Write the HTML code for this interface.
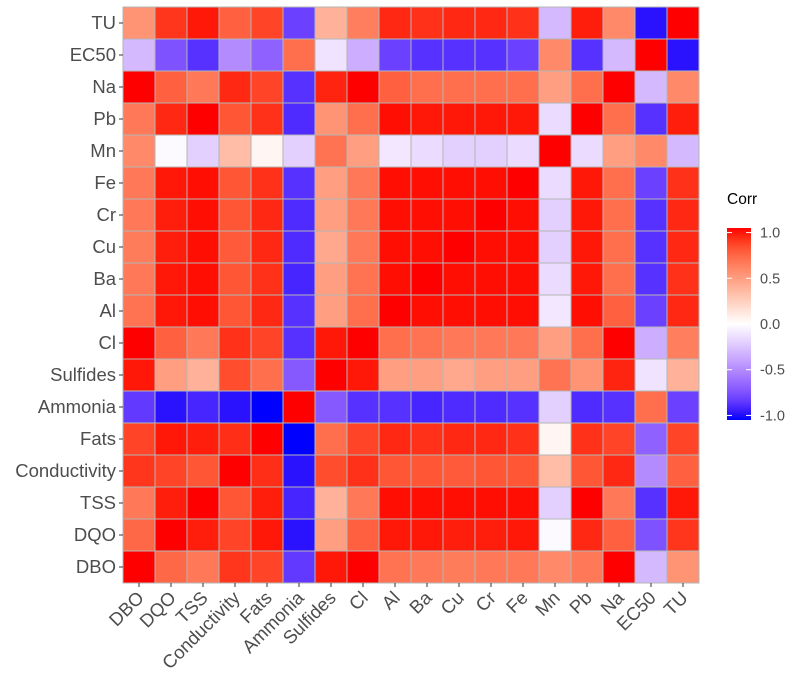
<!DOCTYPE html>
<html><head><meta charset="utf-8">
<style>
body{margin:0;background:#fff;font-family:"Liberation Sans",Arial,sans-serif;}
svg{display:block}
</style></head>
<body>
<svg id="chart" width="800" height="687"></svg>
<script>
const variables = ["DBO","DQO","TSS","Conductivity","Fats","Ammonia","Sulfides","Cl","Al","Ba","Cu","Cr","Fe","Mn","Pb","Na","EC50","TU"];
const corr = [
[1,.75,.68,.92,.88,-.85,.98,1,.7,.68,.66,.68,.68,.6,.68,1,-.3,.55],
[.75,1,.97,.88,.98,-.97,.5,.78,.98,.98,.97,.97,.98,-.02,.95,.78,-.75,.92],
[.68,.97,1,.82,.97,-.92,.4,.68,.99,.99,.99,.99,.99,-.2,1,.68,-.88,.98],
[.92,.88,.82,1,.94,-.97,.85,.93,.82,.82,.8,.82,.82,.35,.82,.95,-.5,.78],
[.88,.98,.97,.94,1,-1,.72,.88,.95,.93,.95,.95,.93,.05,.93,.88,-.68,.88],
[-.85,-.97,-.92,-.97,-1,1,-.72,-.88,-.88,-.92,-.9,-.9,-.88,-.2,-.9,-.88,.72,-.82],
[.98,.5,.4,.85,.72,-.72,1,.98,.5,.5,.45,.5,.5,.7,.55,.96,-.12,.4],
[1,.78,.68,.93,.88,-.88,.98,1,.72,.7,.68,.68,.68,.5,.72,1,-.35,.65],
[.7,.98,.99,.82,.95,-.88,.5,.72,1,.99,.99,.99,.99,-.1,.99,.78,-.82,.95],
[.68,.98,.99,.82,.93,-.92,.5,.7,.99,1,.99,.99,.99,-.15,.98,.72,-.88,.93],
[.66,.97,.99,.8,.95,-.9,.45,.68,.99,.99,1,.99,.99,-.2,.98,.72,-.88,.95],
[.68,.97,.99,.82,.95,-.9,.5,.68,.99,.99,.99,1,.99,-.2,.98,.72,-.88,.95],
[.68,.98,.99,.82,.93,-.88,.5,.68,.99,.99,.99,.99,1,-.15,.98,.72,-.82,.93],
[.6,-.02,-.2,.35,.05,-.2,.7,.5,-.1,-.15,-.2,-.2,-.15,1,-.15,.5,.6,-.3],
[.68,.95,1,.82,.93,-.9,.55,.72,.99,.98,.98,.98,.98,-.15,1,.72,-.88,.97],
[1,.78,.68,.95,.88,-.88,.96,1,.78,.72,.72,.72,.72,.5,.72,1,-.3,.6],
[-.3,-.75,-.88,-.5,-.68,.72,-.12,-.35,-.82,-.88,-.88,-.88,-.82,.6,-.88,-.3,1,-.97],
[.55,.92,.98,.78,.88,-.82,.4,.65,.95,.93,.95,.95,.93,-.3,.97,.6,-.97,1]
];
const legendTicks = [1.0, 0.5, 0.0, -0.5, -1.0];
const legendLabels = ["1.0","0.5","0.0","-0.5","-1.0"];

const NS="http://www.w3.org/2000/svg";
const svg=document.getElementById('chart');
function mk(t,a,p){const e=document.createElementNS(NS,t);for(const k in a)e.setAttribute(k,a[k]);(p||svg).appendChild(e);return e;}

function s2l(c){c/=255;return c<=0.04045?c/12.92:Math.pow((c+0.055)/1.055,2.4);}
function l2s(c){c=c<=0.0031308?12.92*c:1.055*Math.pow(c,1/2.4)-0.055;return Math.max(0,Math.min(255,Math.round(c*255)));}
function toLab(r,g,b){r=s2l(r);g=s2l(g);b=s2l(b);
let x=(r*0.4124+g*0.3576+b*0.1805)/0.95047,y=(r*0.2126+g*0.7152+b*0.0722),z=(r*0.0193+g*0.1192+b*0.9505)/1.08883;
const f=t=>t>0.008856?Math.cbrt(t):7.787*t+16/116;x=f(x);y=f(y);z=f(z);return[116*y-16,500*(x-y),200*(y-z)];}
function fromLab(L,a,bb){let y=(L+16)/116,x=a/500+y,z=y-bb/200;
const fi=t=>t*t*t>0.008856?t*t*t:(t-16/116)/7.787;x=fi(x)*0.95047;y=fi(y);z=fi(z)*1.08883;
const r=x*3.2406+y*-1.5372+z*-0.4986,g=x*-0.9689+y*1.8758+z*0.0415,b=x*0.0557+y*-0.2040+z*1.0570;
return `rgb(${l2s(r)},${l2s(g)},${l2s(b)})`;}
const LR=toLab(255,0,0),LW=toLab(255,255,255),LB=toLab(0,0,255);
function color(v){const t=Math.min(1,Math.abs(v));const e=v>=0?LR:LB;
return fromLab(LW[0]+(e[0]-LW[0])*t,LW[1]+(e[1]-LW[1])*t,LW[2]+(e[2]-LW[2])*t);}

const x0=123,y0=7,cw=32,ch=32,n=variables.length;
const xPos=i=>x0+i*cw;
const yPos=i=>y0+(n-1-i)*ch;

const cells=mk('g',{});


for(let r=0;r<n;r++){for(let c=0;c<n;c++){
  const rc=mk('rect',{x:xPos(c),y:yPos(r),width:cw,height:ch,fill:color(corr[r][c]),stroke:'#b5b5b5','stroke-width':1},cells);
  
  
}}

for(let i=0;i<n;i++){
  const t=mk('text',{x:x0-7,y:yPos(i)+ch/2+6,'text-anchor':'end','font-size':18.5,fill:'#4d4d4d'});
  t.textContent=variables[i];
  
  
  mk('line',{x1:x0-4,x2:x0,y1:yPos(i)+ch/2,y2:yPos(i)+ch/2,stroke:'#333','stroke-width':1});
}
for(let i=0;i<n;i++){
  const cx=xPos(i)+cw/2+6, cy=y0+n*ch+16;
  const t=mk('text',{x:cx,y:cy,'text-anchor':'end','font-size':18.5,fill:'#4d4d4d',transform:`rotate(-45 ${cx} ${cy})`});
  t.textContent=variables[i];
  
  
  mk('line',{x1:xPos(i)+cw/2,x2:xPos(i)+cw/2,y1:y0+n*ch,y2:y0+n*ch+4,stroke:'#333','stroke-width':1});
}

const lg=mk('g',{});


const title=mk('text',{x:727,y:204,'font-size':15.5,fill:'#000'},lg);
title.textContent='Corr';


const defs=mk('defs',{});
const grad=mk('linearGradient',{id:'lgrad',x1:0,y1:0,x2:0,y2:1},defs);
const barTop=228,barBot=420,vTop=1.05,vBot=-1.05;
const ly=v=>barTop+(vTop-v)/(vTop-vBot)*(barBot-barTop);
for(let k=0;k<=20;k++){const v=vTop-(vTop-vBot)*k/20;mk('stop',{offset:(k/20),'stop-color':color(v)},grad);}
const bar=mk('rect',{x:727,y:barTop,width:24,height:barBot-barTop,fill:'url(#lgrad)'},lg);


legendTicks.forEach((v,i)=>{
  mk('line',{x1:727,x2:732,y1:ly(v),y2:ly(v),stroke:'#fff','stroke-width':1},lg);
  mk('line',{x1:746,x2:751,y1:ly(v),y2:ly(v),stroke:'#fff','stroke-width':1},lg);
  const t=mk('text',{x:760,y:ly(v)+5,'font-size':14.5,fill:'#4d4d4d'},lg);
  t.textContent=legendLabels[i];
  
  
});
</script>
</body></html>
